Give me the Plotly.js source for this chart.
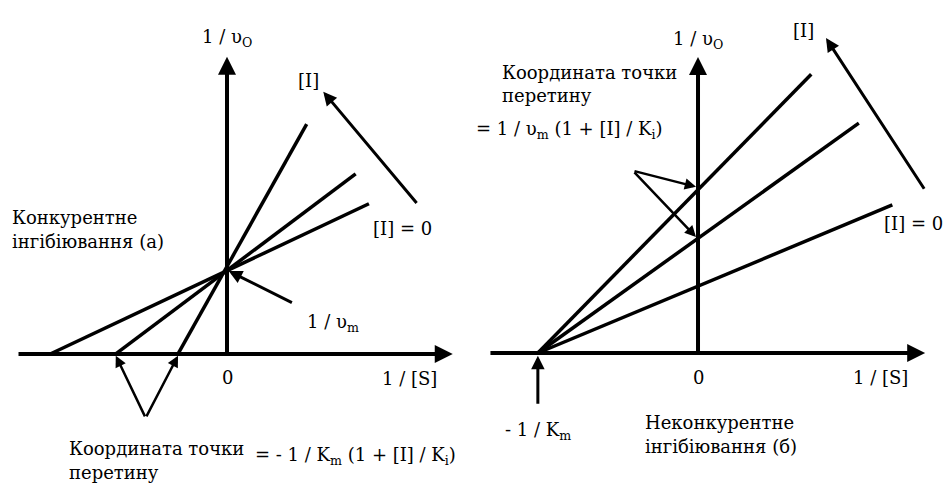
<!DOCTYPE html>
<html>
<head>
<meta charset="utf-8">
<script src="https://cdn.plot.ly/plotly-3.0.1.min.js"></script>
<style>
  html, body { margin: 0; padding: 0; background: #fff; }
  #chart { width: 946px; height: 489px; }
</style>
</head>
<body>
<div id="chart"></div>
<script>
// competitive inhibition (a): lines meet on the y axis at 1/Vm
const compYIntercept = 1.0;
const compXIntercepts = [-2.13, -1.34, -0.59];   // [I] = 0 ... highest [I]
const compEndX = [1.71, 1.55, 0.96];
const compEndY = [1.81, 2.17, 2.77];

// non-competitive inhibition (б): lines meet on the x axis at -1/Km
const nonCompXIntercept = -2.39;
const nonCompYIntercepts = [1.0, 1.73, 2.48];
const nonCompEndX = [2.90, 2.40, 1.69];
const nonCompEndY = [2.21, 3.43, 4.16];

const font = { family: 'DejaVu Serif', size: 18, color: '#000' };

const data = [];
compXIntercepts.forEach((x0, i) => {
  data.push({
    x: [x0, compEndX[i]], y: [0, compEndY[i]],
    xaxis: 'x', yaxis: 'y', mode: 'lines',
    line: { color: '#000', width: 3.5 }, hoverinfo: 'skip'
  });
});
nonCompEndX.forEach((xe, i) => {
  data.push({
    x: [nonCompXIntercept, xe], y: [0, nonCompEndY[i]],
    xaxis: 'x2', yaxis: 'y2', mode: 'lines',
    line: { color: '#000', width: 3.5 }, hoverinfo: 'skip'
  });
});

function arrow(p, x, y, ax, ay, w) {
  return {
    xref: 'x' + p, yref: 'y' + p, axref: 'x' + p, ayref: 'y' + p,
    x: x, y: y, ax: ax, ay: ay, text: '', showarrow: true,
    arrowhead: 2, arrowsize: 0.9, arrowwidth: w || 3, arrowcolor: '#000'
  };
}
function label(p, x, y, text, anchor) {
  return {
    xref: 'x' + p, yref: 'y' + p, x: x, y: y, text: text, showarrow: false,
    xanchor: anchor || 'center', yanchor: 'middle', font: font
  };
}

const annotations = [
  // panel (a) axes
  arrow('', 2.72, 0, -2.53, 0, 4),
  arrow('', 0, 3.58, 0, 0, 4),
  arrow('', 1.16, 3.16, 2.30, 1.80, 3),
  arrow('', 0.02, 1.0, 0.80, 0.61, 3),
  arrow('', compXIntercepts[1], -0.02, -0.98, -0.77, 2.5),
  arrow('', compXIntercepts[2], -0.02, -0.98, -0.77, 2.5),
  label('', 0, 3.81, '1 / υ<sub>O</sub>'),
  label('', 0.98, 3.29, '[I]'),
  label('', 2.12, 1.51, '[I] = 0'),
  label('', 1.28, 0.37, '1 / υ<sub>m</sub>'),
  label('', 0, -0.28, '0'),
  label('', 2.20, -0.29, '1 / [S]'),
  label('', -2.61, 1.65, 'Конкурентне', 'left'),
  label('', -2.61, 1.36, 'інгібіювання (а)', 'left'),
  label('', -1.93, -1.14, 'Координата точки', 'left'),
  label('', -1.93, -1.43, 'перетину', 'left'),
  label('', 0.31, -1.23, '= - 1 / K<sub>m</sub> (1 + [I] / K<sub>i</sub>)', 'left'),

  // panel (б) axes
  arrow('2', 3.39, 0, -3.12, 0, 4),
  arrow('2', 0, 4.42, 0, 0, 4),
  arrow('2', 1.91, 4.70, 3.39, 2.43, 3),
  arrow('2', -0.03, nonCompYIntercepts[2], -0.97, 2.72, 2.5),
  arrow('2', -0.03, nonCompYIntercepts[1], -0.97, 2.72, 2.5),
  arrow('2', nonCompXIntercept, -0.04, nonCompXIntercept, -0.78, 3),
  label('2', 0, 4.67, '1 / υ<sub>O</sub>'),
  label('2', 1.58, 4.82, '[I]'),
  label('2', 3.22, 1.94, '[I] = 0'),
  label('2', 0, -0.37, '0'),
  label('2', 2.72, -0.37, '1 / [S]'),
  label('2', nonCompXIntercept, -1.16, '- 1 / K<sub>m</sub>'),
  label('2', -2.95, 4.19, 'Координата точки', 'left'),
  label('2', -2.95, 3.85, 'перетину', 'left'),
  label('2', -3.35, 3.33, '= 1 / υ<sub>m</sub> (1 + [I] / K<sub>i</sub>)', 'left'),
  label('2', -0.82, -1.03, 'Неконкурентне', 'left'),
  label('2', -0.82, -1.39, 'інгібіювання (б)', 'left')
];

const hidden = { visible: false, fixedrange: true };
const layout = {
  width: 946, height: 489,
  margin: { l: 0, r: 0, t: 0, b: 0 },
  paper_bgcolor: '#fff', plot_bgcolor: '#fff',
  showlegend: false,
  font: font,
  xaxis: Object.assign({ domain: [0, 0.5], range: [-2.735, 2.964] }, hidden),
  yaxis: Object.assign({ domain: [0, 1], range: [-1.627, 4.265] }, hidden),
  xaxis2: Object.assign({ domain: [0.5, 1], range: [-3.358, 3.701], anchor: 'y2' }, hidden),
  yaxis2: Object.assign({ domain: [0, 1], range: [-2.03, 5.269], anchor: 'x2' }, hidden),
  annotations: annotations
};

Plotly.newPlot('chart', data, layout, { displayModeBar: false, staticPlot: true });
</script>
</body>
</html>
